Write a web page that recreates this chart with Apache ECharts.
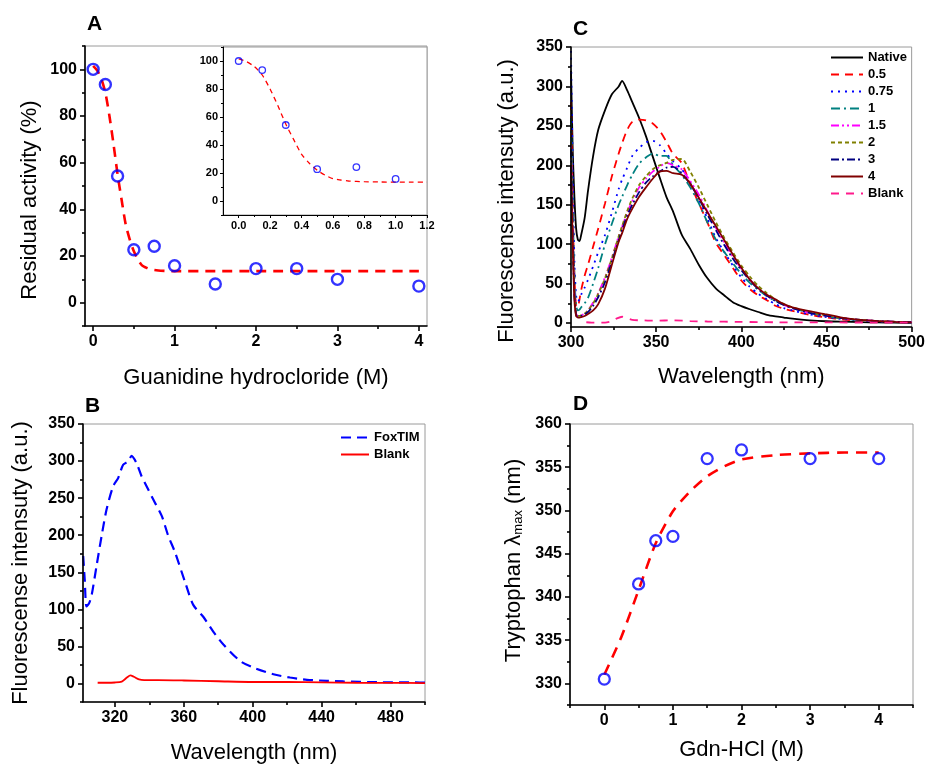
<!DOCTYPE html>
<html><head><meta charset="utf-8">
<script src="https://cdn.jsdelivr.net/npm/echarts@6/dist/echarts.min.js"></script>
<style>html,body{margin:0;padding:0;background:#fff}#c{width:928px;height:765px}</style>
</head><body><div id="c"></div>
<script>
// ---------- Panel A: residual activity ----------
const aX = [0, 0.15, 0.3, 0.5, 0.75, 1, 1.5, 2, 2.5, 3, 4];
const aY = [100, 93.5, 54.3, 22.7, 24.2, 15.8, 8, 14.6, 14.6, 10, 7.1];
const aFitX = [0, 0.05, 0.1, 0.15, 0.2, 0.25, 0.3, 0.35, 0.4, 0.45, 0.5, 0.55, 0.6, 0.65, 0.7, 0.8, 0.9, 1.0, 1.5, 2, 3, 4];
const aFitY = [101.5, 99.5, 96, 90, 80, 68, 55, 44, 33.5, 27, 22, 18.5, 16, 15, 14.3, 13.8, 13.6, 13.5, 13.5, 13.5, 13.5, 13.5];
const aInsetX = [0, 0.15, 0.3, 0.5, 0.75, 1];
const aInsetY = [100, 93.5, 54.3, 22.7, 24.2, 15.8];
const aInsetFitX = [0, 0.05, 0.1, 0.15, 0.2, 0.25, 0.3, 0.35, 0.4, 0.45, 0.5, 0.55, 0.6, 0.65, 0.7, 0.8, 0.9, 1.0, 1.1, 1.2];
const aInsetFitY = [101.5, 99.5, 96, 90, 80, 68, 55, 44, 33.5, 27, 22, 18.5, 16, 15, 14.3, 13.8, 13.6, 13.5, 13.5, 13.5];
const aXTicks = [0, 1, 2, 3, 4];
const aXMinor = [0.5, 1.5, 2.5, 3.5];
const aYTicks = [0, 20, 40, 60, 80, 100];
const aYMinor = [-10, 10, 30, 50, 70, 90, 110];
const insXTicks = [0, 0.2, 0.4, 0.6, 0.8, 1.0, 1.2];
const insXMinor = [0.1, 0.3, 0.5, 0.7, 0.9, 1.1];
const insYTicks = [0, 20, 40, 60, 80, 100];
const insYMinor = [-10, 10, 30, 50, 70, 90, 110];

// ---------- Panel B: FoxTIM vs blank ----------
const bFoxX = [301.6, 302.5, 303.5, 305, 306.5, 309.4, 312.3, 315.2, 319, 321.9, 324.8, 327.7, 329.7, 332.6, 335.5, 338.4, 342.3, 347.2, 351, 354.9, 360.7, 365.5, 371.3, 377.1, 383, 392.7, 400.4, 412, 421.7, 431.5, 443, 452.7, 472, 497, 500];
const bFoxY = [172, 140, 104, 108, 119, 159, 199, 235, 266, 277, 295, 299.5, 307, 297, 279.5, 266, 248, 226, 199, 177, 137, 106, 90, 70, 52.5, 30.3, 21.4, 12.4, 8, 4.9, 3.6, 2.7, 1.7, 1.3, 1.2];
const bBlankX = [310, 315, 320, 324, 327, 329, 331, 334, 337, 345, 360, 380, 400, 420, 440, 460, 480, 500];
const bBlankY = [1, 1, 1.3, 2.5, 8, 11, 9, 5.5, 4.5, 4.5, 4, 3, 2, 2, 1.5, 1, 0.8, 0.5];
const bXTicks = [320, 360, 400, 440, 480];
const bXMinor = [340, 380, 420, 460, 500];
const bYTicks = [0, 50, 100, 150, 200, 250, 300, 350];
const bYMinor = [-25, 25, 75, 125, 175, 225, 275, 325];

// ---------- Panel C: spectra at Gdn-HCl concentrations ----------
const cWl = [300, 301, 302, 303, 304, 305, 306, 308, 310, 313, 316, 320, 324, 328, 330, 333, 336, 340, 344, 348, 352, 356, 360, 365, 370, 375, 380, 385, 390, 395, 400, 405, 410, 415, 420, 425, 430, 440, 450, 460, 470, 480, 490, 500];
const cNative = [320, 220, 160, 120, 106, 104, 112, 133, 168, 212, 245, 270, 290, 300, 307, 295, 280, 260, 237, 211, 185, 160, 141, 112, 94, 74, 57, 44, 35, 26.5, 21.5, 17.5, 14, 10.5, 8.5, 7, 5.5, 3.5, 2.3, 1.7, 1.2, 0.8, 0.5, 0.3];
const c05 = [280, 150, 60, 22, 20, 30, 42, 60, 74, 97, 120, 152, 186, 215, 228, 245, 255, 258, 257, 253, 244, 230, 214, 203, 176, 152, 128, 102, 86, 70, 54, 43, 35, 29, 22, 18, 15.5, 10.5, 7, 4.5, 3, 2, 1.3, 1];
const c075 = [345, 200, 80, 35, 27, 30, 36, 45, 55, 72, 90, 112, 140, 170, 182, 197, 212, 222, 229, 231, 226, 215, 205, 195, 178, 157, 133, 108, 90, 73, 58, 46, 37, 30, 24, 19, 16, 11, 7.5, 5, 3.3, 2.2, 1.4, 1];
const c1 = [260, 150, 60, 22, 16, 17, 20, 25, 32, 50, 70, 100, 126, 150, 160, 175, 188, 202, 210, 215, 212, 212, 200, 188, 172, 152, 128, 106, 90, 76, 62, 51, 42, 34, 28, 23, 19, 13, 8.5, 5.5, 3.5, 2.3, 1.5, 1];
const c15 = [230, 120, 40, 12, 9, 9, 10, 12, 16, 26, 38, 58, 83, 110, 122, 140, 155, 172, 183, 192, 198, 203, 200, 195, 180, 163, 142, 121, 102, 84, 69, 55, 44, 35, 28.5, 23, 19, 13, 9, 6, 4, 2.6, 1.7, 1];
const c2 = [230, 120, 40, 12, 9, 9, 10, 12, 16, 25, 37, 57, 82, 110, 123, 142, 158, 175, 186, 195, 200, 203, 207, 208, 192, 172, 150, 128, 108, 90, 73, 59, 47, 38, 30, 24, 20, 14, 9.5, 6.2, 4, 2.6, 1.7, 1];
const c3 = [220, 110, 35, 10, 8, 8, 9, 11, 14, 22, 33, 52, 78, 105, 118, 136, 150, 166, 178, 186, 192, 197, 198, 190, 176, 158, 138, 118, 99, 82, 67, 54, 43, 35, 28, 23, 19, 13, 9, 6, 4, 2.5, 1.6, 1];
const c4 = [200, 100, 30, 9, 7, 7, 7.5, 9, 11.5, 16, 24, 44, 74, 103, 114, 132, 145, 160, 172, 183, 192, 193, 190, 188, 177, 159, 141, 123, 105, 87, 70, 55, 44, 36, 30, 24, 20, 15, 11, 6.5, 4, 2.5, 1.5, 0.8];
const cBlankX = [309, 312, 315, 320, 324, 327, 330, 333, 336, 340, 350, 360, 370, 380, 400, 420, 450, 480, 500];
const cBlankY = [1, 0.5, 0.5, 0.5, 2.5, 6, 8, 6, 4, 3.5, 3, 3.5, 2.5, 2, 1.5, 1, 0.8, 0.6, 0.5];
const cNames = ['Native', '0.5', '0.75', '1', '1.5', '2', '3', '4', 'Blank'];
const cXTicks = [300, 350, 400, 450, 500];
const cXMinor = [325, 375, 425, 475];
const cYTicks = [0, 50, 100, 150, 200, 250, 300, 350];
const cYMinor = [25, 75, 125, 175, 225, 275, 325];

// ---------- Panel D: Trp lambda max ----------
const dX = [0, 0.5, 0.75, 1, 1.5, 2, 3, 4];
const dY = [330.5, 341.5, 346.5, 347, 356, 357, 356, 356];
const dFitX = [0, 0.25, 0.5, 0.75, 1, 1.25, 1.5, 1.75, 2, 2.5, 3, 3.5, 4];
const dFitY = [331, 335.4, 340.8, 346.2, 349.9, 352.2, 353.95, 355.1, 355.9, 356.4, 356.6, 356.7, 356.7];
const dXTicks = [0, 1, 2, 3, 4];
const dXMinor = [-0.5, 0.5, 1.5, 2.5, 3.5, 4.5];
const dYTicks = [330, 335, 340, 345, 350, 355, 360];
const dYMinor = [327.5, 332.5, 337.5, 342.5, 347.5, 352.5, 357.5];

// ---------- build ----------
const FONT = '"Liberation Sans", Arial, Helvetica, sans-serif';
const pairs = (xs, ys) => xs.map((x, i) => [x, ys[i]]);

function axis(o) {
  return {
    type: 'value', gridIndex: o.grid, min: o.min, max: o.max, position: o.pos,
    name: o.name || '', nameLocation: 'middle', nameGap: o.nameGap || 0,
    nameTextStyle: Object.assign({fontFamily: FONT, fontSize: 22, color: '#000'}, o.nameStyle || {}),
    axisLine: {show: !o.minor, onZero: false, lineStyle: {color: '#000', width: o.lw || 1.6}},
    axisTick: {show: true, inside: false, length: o.tickLen || 5, customValues: o.ticks,
               lineStyle: {color: '#000', width: o.lw || 1.6}},
    axisLabel: {show: !o.minor, customValues: o.minor ? [] : o.ticks, margin: o.margin || 8,
                fontFamily: FONT, fontWeight: 'bold', fontSize: o.fs || 16, color: '#000',
                formatter: o.fmt, showMinLabel: true, showMaxLabel: true, hideOverlap: false},
    splitLine: {show: false}, z: 5
  };
}

const gridBase = {show: true, borderColor: '#9a9a9a', borderWidth: 1, backgroundColor: '#fff', containLabel: false};
const grids = [
  Object.assign({left: 85, top: 46, width: 342, height: 280}, gridBase),
  Object.assign({left: 223, top: 47, width: 204, height: 168}, gridBase),
  Object.assign({left: 83, top: 424, width: 342, height: 281}, gridBase),
  Object.assign({left: 571, top: 47, width: 342, height: 280}, gridBase),
  Object.assign({left: 570, top: 424, width: 343, height: 281}, gridBase)
];

const xAxes = [
  axis({grid: 0, pos: 'bottom', min: -0.1, max: 4.1, ticks: aXTicks, name: 'Guanidine hydrocloride (M)', nameGap: 41}),
  axis({grid: 0, pos: 'bottom', min: -0.1, max: 4.1, ticks: aXMinor, minor: true, tickLen: 3}),
  axis({grid: 1, pos: 'bottom', min: -0.1, max: 1.2, ticks: insXTicks, fs: 11, lw: 1, tickLen: 3, margin: 5, fmt: v => v.toFixed(1)}),
  axis({grid: 1, pos: 'bottom', min: -0.1, max: 1.2, ticks: insXMinor, minor: true, lw: 1, tickLen: 2}),
  axis({grid: 2, pos: 'bottom', min: 301.5, max: 500, ticks: bXTicks, name: 'Wavelength (nm)', nameGap: 40}),
  axis({grid: 2, pos: 'bottom', min: 301.5, max: 500, ticks: bXMinor, minor: true, tickLen: 3}),
  axis({grid: 3, pos: 'bottom', min: 300, max: 500, ticks: cXTicks, name: 'Wavelength (nm)', nameGap: 39}),
  axis({grid: 3, pos: 'bottom', min: 300, max: 500, ticks: cXMinor, minor: true, tickLen: 3}),
  axis({grid: 4, pos: 'bottom', min: -0.5, max: 4.5, ticks: dXTicks, name: 'Gdn-HCl (M)', nameGap: 34}),
  axis({grid: 4, pos: 'bottom', min: -0.5, max: 4.5, ticks: dXMinor, minor: true, tickLen: 3})
];
const yAxes = [
  axis({grid: 0, pos: 'left', min: -10, max: 110, ticks: aYTicks, name: 'Residual activity (%)', nameGap: 44,
        nameStyle: {padding: [0, 28, 0, 0]}}),
  axis({grid: 0, pos: 'left', min: -10, max: 110, ticks: aYMinor, minor: true, tickLen: 3}),
  axis({grid: 1, pos: 'left', min: -10, max: 110, ticks: insYTicks, fs: 11, lw: 1, tickLen: 3, margin: 5}),
  axis({grid: 1, pos: 'left', min: -10, max: 110, ticks: insYMinor, minor: true, lw: 1, tickLen: 2}),
  axis({grid: 2, pos: 'left', min: -25, max: 350, ticks: bYTicks, name: 'Fluorescense intensuty (a.u.)', nameGap: 51}),
  axis({grid: 2, pos: 'left', min: -25, max: 350, ticks: bYMinor, minor: true, tickLen: 3}),
  axis({grid: 3, pos: 'left', min: -5, max: 350, ticks: cYTicks, name: 'Fluorescense intensuty (a.u.)', nameGap: 53,
        nameStyle: {padding: [0, 28, 0, 0]}}),
  axis({grid: 3, pos: 'left', min: -5, max: 350, ticks: cYMinor, minor: true, tickLen: 3}),
  axis({grid: 4, pos: 'left', min: 327.5, max: 360, ticks: dYTicks, name: 'Tryptophan λ{s|max} (nm)', nameGap: 45,
        nameStyle: {padding: [0, 0, 0, 8], rich: {s: {fontFamily: FONT, fontSize: 13, color: '#000', verticalAlign: 'bottom', padding: [10, 0, 0, 0]}}}}),
  axis({grid: 4, pos: 'left', min: 327.5, max: 360, ticks: dYMinor, minor: true, tickLen: 3})
];

function lineS(name, xi, data, color, width, type, extra) {
  return Object.assign({
    name: name, type: 'line', xAxisIndex: xi, yAxisIndex: xi, data: data,
    symbol: 'none', showSymbol: false, smooth: 0.25, clip: true, z: 3,
    lineStyle: {color: color, width: width, type: type}, itemStyle: {color: color}
  }, extra || {});
}
function scat(xi, data, size, bw) {
  return {type: 'scatter', xAxisIndex: xi, yAxisIndex: xi, data: data, symbol: 'circle', symbolSize: size, z: 6,
          itemStyle: {color: 'rgba(0,0,0,0)', borderColor: '#0000ff', borderWidth: bw}};
}

const cColors = ['#000000', '#ff0000', '#0000ff', '#008080', '#ff00ff', '#808000', '#000080', '#800000', '#ff1a8c'];
const cTypes = ['solid', [8, 6], [2, 5], [9, 4, 2, 4], [8, 3, 2, 3, 2, 3], [4, 3], [8, 3, 2, 3], 'solid', [8, 7]];
const cSets = [cNative, c05, c075, c1, c15, c2, c3, c4];
const cKeys = ['C-Native', 'C-0.5', 'C-0.75', 'C-1', 'C-1.5', 'C-2', 'C-3', 'C-4', 'C-Blank'];
const cLabel = {};
cKeys.forEach((k, i) => cLabel[k] = cNames[i]);

const series = [
  lineS('A-fit', 0, pairs(aFitX, aFitY), '#ff0000', 2.6, [10, 7]),
  scat(0, pairs(aX, aY), 11, 2.4),
  lineS('Ains-fit', 2, pairs(aInsetFitX, aInsetFitY), '#ff0000', 1.3, [5, 4]),
  scat(2, pairs(aInsetX, aInsetY), 6.5, 1.3),
  lineS('FoxTIM', 4, pairs(bFoxX, bFoxY), '#0000ff', 2.2, [10, 6]),
  lineS('Blank', 4, pairs(bBlankX, bBlankY), '#ff0000', 1.8, 'solid'),
];
cSets.forEach((arr, i) => series.push(lineS(cKeys[i], 6, pairs(cWl, arr), cColors[i], 1.8, cTypes[i])));
series.push(lineS('C-Blank', 6, pairs(cBlankX, cBlankY), cColors[8], 1.8, cTypes[8]));
series.push(lineS('D-fit', 8, pairs(dFitX, dFitY), '#ff0000', 2.6, [11, 8]));
series.push(scat(8, pairs(dX, dY), 11, 2.3));

const legendText = {fontFamily: FONT, fontWeight: 'bold', fontSize: 13, color: '#000'};
const hideSym = {opacity: 0, borderWidth: 0};
const option = {
  animation: false,
  backgroundColor: '#fff',
  grid: grids,
  xAxis: xAxes,
  yAxis: yAxes,
  legend: [
    {data: cKeys, orient: 'vertical', left: 830, top: 51, itemWidth: 32, itemHeight: 12, itemGap: 4, padding: 0,
     selectedMode: false, textStyle: legendText, formatter: n => cLabel[n], itemStyle: hideSym},
    {data: ['FoxTIM', 'Blank'], orient: 'vertical', left: 340, top: 431, itemWidth: 28, itemHeight: 12, itemGap: 4, padding: 0,
     selectedMode: false, textStyle: legendText, itemStyle: hideSym}
  ],
  graphic: [
    {type: 'text', left: 87, top: 14, style: {text: 'A', font: 'bold 21px ' + FONT, fill: '#000'}},
    {type: 'text', left: 85, top: 396, style: {text: 'B', font: 'bold 21px ' + FONT, fill: '#000'}},
    {type: 'text', left: 573, top: 19, style: {text: 'C', font: 'bold 21px ' + FONT, fill: '#000'}},
    {type: 'text', left: 573, top: 394, style: {text: 'D', font: 'bold 21px ' + FONT, fill: '#000'}}
  ],
  series: series
};
const chart = echarts.init(document.getElementById('c'), null, {renderer: 'canvas'});
chart.setOption(option);
</script></body></html>
